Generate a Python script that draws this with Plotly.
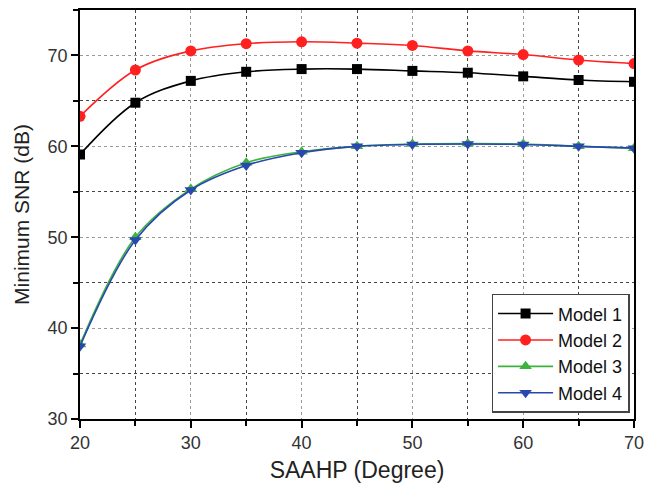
import plotly.graph_objects as go

saahp = [20, 25, 30, 35, 40, 45, 50, 55, 60, 65, 70]
model1 = [59.1, 64.8, 67.2, 68.2, 68.5, 68.5, 68.3, 68.1, 67.7, 67.3, 67.1]
model2 = [63.3, 68.4, 70.5, 71.3, 71.5, 71.35, 71.1, 70.5, 70.1, 69.5, 69.1]
model3 = [38.2, 50.0, 55.3, 58.2, 59.4, 60.0, 60.25, 60.3, 60.25, 60.0, 59.8]
model4 = [38.0, 49.7, 55.2, 57.9, 59.3, 60.0, 60.2, 60.25, 60.2, 60.0, 59.8]

names = ["Model 1", "Model 2", "Model 3", "Model 4"]
colors = ["#000000", "#ff2020", "#3cb33c", "#2848b0"]
symbols = ["square", "circle", "triangle-up", "triangle-down"]
sizes = [10, 11, 11, 11]

FONT = "Liberation Sans, Arial, Helvetica, sans-serif"

fig = go.Figure()
for y, n, c, s, sz in zip([model1, model2, model3, model4], names, colors, symbols, sizes):
    fig.add_trace(go.Scatter(
        x=saahp, y=y, name=n, mode="lines+markers",
        line=dict(color=c, width=1.6, shape="spline"),
        marker=dict(symbol=s, size=sz, color=c),
    ))

axis_common = dict(
    showline=True, linecolor="black", linewidth=1.5, mirror=True,
    ticks="outside", ticklen=7, tickwidth=1.5, tickcolor="black",
    showgrid=True, gridcolor="#9a9a9a", gridwidth=1, griddash="dot",
    zeroline=False, automargin=False,
    tickfont=dict(family=FONT, size=18, color="#333"),
    minor=dict(dtick=5, showgrid=True, gridcolor="#444444", griddash="3px,3px",
               gridwidth=1, ticks="outside", ticklen=5, tickwidth=1.5, tickcolor="black"),
)

fig.update_xaxes(range=[20, 70], dtick=10, tick0=20,
                 title=dict(text="SAAHP (Degree)", font=dict(family=FONT, size=23, color="#222"), standoff=10),
                 **axis_common)
fig.update_yaxes(range=[30, 75], dtick=10, tick0=30,
                 title=dict(text="Minimum SNR (dB)", font=dict(family=FONT, size=21, color="#222"), standoff=12),
                 **axis_common)

fig.update_layout(
    width=646, height=492,
    margin=dict(l=80, r=12, t=10, b=73),
    paper_bgcolor="white", plot_bgcolor="white",
    font=dict(family=FONT, color="#222"),
    legend=dict(x=0.992, y=0.015, xanchor="right", yanchor="bottom",
                bgcolor="white", bordercolor="#444", borderwidth=1.5,
                font=dict(size=18, family=FONT, color="#111"),
                tracegroupgap=0, itemwidth=55),
    showlegend=True,
)

fig.write_html(
    "out.html",
    config={"displayModeBar": False},
    post_script="document.body.style.margin='0';document.body.style.overflow='hidden';",
)
